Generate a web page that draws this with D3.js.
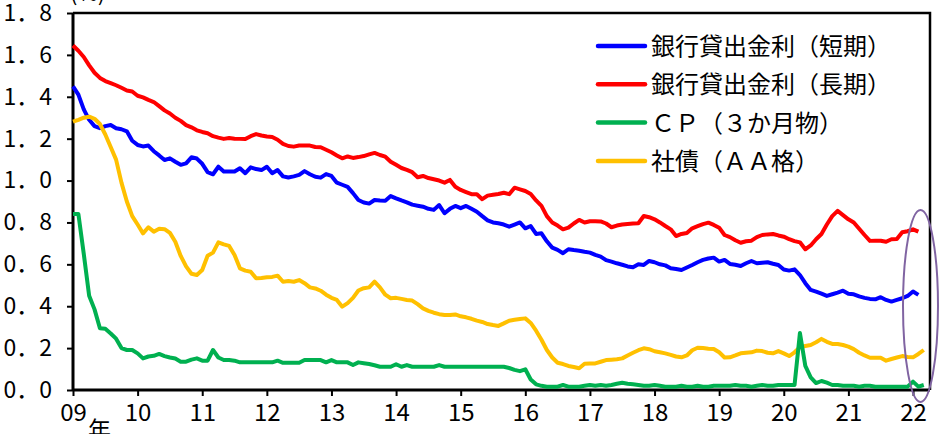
<!DOCTYPE html>
<html>
<head>
<meta charset="utf-8">
<script src="https://cdn.jsdelivr.net/npm/d3@7"></script>
<style>
body{margin:0;background:#fff;}
text{font-family:"Noto Sans CJK JP",sans-serif;fill:#000;}
</style>
</head>
<body>
<div id="chart"></div>
<script>
// monthly data from Jan 2009
var startYear = 2009;
var yearLabels = ["09","10","11","12","13","14","15","16","17","18","19","20","21","22"];
var yTicks = [0,0.2,0.4,0.6,0.8,1.0,1.2,1.4,1.6,1.8];
var seriesNames = ["銀行貸出金利（短期）","銀行貸出金利（長期）","ＣＰ（３か月物）","社債（ＡＡ格）"];

var shortRate = [
  1.45,1.41,1.34,1.29,1.26,1.25,1.26,1.265,1.25,1.245,1.235,1.19,
  1.17,1.163,1.167,1.14,1.12,1.098,1.106,1.09,1.075,1.082,1.111,1.105,
  1.08,1.04,1.03,1.066,1.043,1.043,1.043,1.059,1.035,1.063,1.055,1.05,
  1.066,1.035,1.05,1.02,1.015,1.02,1.027,1.045,1.03,1.018,1.014,1.031,
  1.022,0.99,0.98,0.97,0.94,0.907,0.895,0.89,0.907,0.905,0.904,0.926,
  0.915,0.905,0.896,0.885,0.88,0.875,0.865,0.86,0.883,0.844,0.865,0.879,
  0.868,0.879,0.865,0.851,0.83,0.81,0.8,0.796,0.79,0.78,0.79,0.8,
  0.772,0.783,0.745,0.748,0.71,0.68,0.669,0.653,0.672,0.668,0.665,0.66,
  0.656,0.645,0.637,0.62,0.613,0.605,0.598,0.59,0.586,0.6,0.597,0.616,
  0.61,0.6,0.595,0.581,0.578,0.573,0.585,0.597,0.61,0.621,0.628,0.632,
  0.613,0.621,0.602,0.598,0.592,0.605,0.616,0.605,0.608,0.61,0.603,0.597,
  0.575,0.57,0.576,0.549,0.51,0.478,0.47,0.46,0.449,0.457,0.465,0.474,
  0.46,0.457,0.447,0.44,0.435,0.433,0.443,0.43,0.422,0.43,0.438,0.449,
  0.47,0.454
];
var longRate = [
  1.645,1.62,1.59,1.55,1.515,1.49,1.475,1.465,1.455,1.443,1.43,1.425,
  1.405,1.397,1.385,1.375,1.355,1.335,1.32,1.3,1.285,1.265,1.254,1.24,
  1.232,1.226,1.212,1.205,1.199,1.203,1.2,1.199,1.198,1.212,1.222,1.215,
  1.21,1.208,1.195,1.175,1.165,1.162,1.167,1.167,1.167,1.16,1.159,1.147,
  1.135,1.12,1.106,1.115,1.108,1.112,1.117,1.125,1.132,1.122,1.114,1.09,
  1.075,1.06,1.051,1.04,1.016,1.022,1.012,1.006,1.0,0.99,1.003,0.97,
  0.955,0.945,0.935,0.935,0.911,0.928,0.932,0.936,0.942,0.935,0.966,0.958,
  0.95,0.936,0.905,0.879,0.83,0.8,0.785,0.767,0.775,0.795,0.812,0.8,
  0.806,0.806,0.805,0.795,0.777,0.785,0.79,0.793,0.795,0.796,0.831,0.825,
  0.815,0.8,0.783,0.767,0.735,0.745,0.75,0.772,0.782,0.792,0.799,0.788,
  0.775,0.74,0.73,0.715,0.703,0.71,0.713,0.73,0.74,0.743,0.745,0.738,
  0.732,0.72,0.711,0.705,0.672,0.69,0.72,0.745,0.79,0.83,0.855,0.835,
  0.815,0.8,0.77,0.74,0.712,0.713,0.713,0.708,0.72,0.721,0.753,0.758,
  0.767,0.756
];
var cpRate = [
  0.84,0.84,0.65,0.45,0.385,0.295,0.292,0.27,0.245,0.2,0.191,0.191,
  0.175,0.151,0.16,0.163,0.172,0.162,0.155,0.15,0.135,0.135,0.145,0.151,
  0.14,0.14,0.191,0.155,0.143,0.143,0.14,0.132,0.132,0.132,0.132,0.132,
  0.132,0.132,0.14,0.13,0.13,0.13,0.13,0.143,0.143,0.143,0.143,0.132,
  0.143,0.132,0.132,0.132,0.119,0.132,0.128,0.124,0.118,0.111,0.111,0.111,
  0.123,0.111,0.119,0.111,0.111,0.111,0.111,0.111,0.119,0.111,0.111,0.111,
  0.111,0.111,0.111,0.111,0.111,0.111,0.111,0.111,0.111,0.105,0.096,0.09,
  0.099,0.05,0.027,0.02,0.016,0.016,0.016,0.024,0.016,0.016,0.016,0.02,
  0.024,0.02,0.024,0.02,0.024,0.03,0.035,0.03,0.027,0.024,0.02,0.02,
  0.024,0.02,0.016,0.016,0.016,0.02,0.016,0.016,0.02,0.016,0.016,0.02,
  0.02,0.02,0.02,0.024,0.02,0.02,0.016,0.02,0.024,0.02,0.02,0.024,
  0.024,0.024,0.024,0.272,0.115,0.06,0.033,0.043,0.035,0.024,0.024,0.02,
  0.02,0.02,0.016,0.02,0.02,0.016,0.016,0.016,0.016,0.016,0.016,0.016,
  0.04,0.016,0.024
];
var bondRate = [
  1.281,1.29,1.3,1.305,1.295,1.27,1.22,1.16,1.1,0.99,0.9,0.83,
  0.79,0.748,0.777,0.756,0.77,0.768,0.75,0.708,0.64,0.59,0.555,0.549,
  0.573,0.641,0.656,0.705,0.695,0.688,0.645,0.581,0.57,0.565,0.533,0.535,
  0.538,0.54,0.546,0.517,0.52,0.517,0.525,0.51,0.49,0.485,0.474,0.455,
  0.44,0.43,0.398,0.415,0.44,0.475,0.486,0.49,0.517,0.49,0.455,0.438,
  0.44,0.435,0.43,0.427,0.41,0.39,0.378,0.369,0.362,0.358,0.358,0.361,
  0.352,0.347,0.34,0.331,0.325,0.315,0.31,0.306,0.318,0.331,0.335,0.339,
  0.342,0.32,0.283,0.24,0.191,0.155,0.13,0.124,0.115,0.11,0.104,0.125,
  0.127,0.127,0.135,0.143,0.145,0.147,0.151,0.165,0.178,0.19,0.199,0.195,
  0.185,0.18,0.175,0.168,0.16,0.156,0.165,0.19,0.202,0.2,0.197,0.196,
  0.18,0.155,0.156,0.165,0.175,0.178,0.18,0.188,0.186,0.178,0.175,0.186,
  0.175,0.162,0.18,0.204,0.21,0.215,0.228,0.244,0.23,0.22,0.22,0.215,
  0.207,0.195,0.178,0.165,0.154,0.154,0.154,0.14,0.148,0.155,0.162,0.158,
  0.156,0.172,0.191
];

var colors = ["#0000ff","#ff0000","#00b050","#ffc000"];

var width = 939, height = 434;
var plotLeft = 73, plotRight = 930, plotTop = 13, plotBottom = 390;

var svg = d3.select("#chart").append("svg")
  .attr("width", width)
  .attr("height", height)
  .style("display","block")
  .style("background","#fff");

var x = d3.scaleLinear().domain([2009, 2022.263]).range([plotLeft, plotRight]);
var y = d3.scaleLinear().domain([0, 1.8]).range([plotBottom, plotTop]);

// frame (top + right)
svg.append("path")
  .attr("d", "M" + plotLeft + "," + plotTop + "H" + plotRight + "V" + plotBottom)
  .attr("fill","none")
  .attr("stroke","#000")
  .attr("stroke-width",2.5);

// y axis
var yAxis = d3.axisLeft(y)
  .tickValues(yTicks)
  .tickSize(6)
  .tickPadding(15)
  .tickFormat(function(d){ return d3.format(".1f")(d).replace(".", "．"); });
var gy = svg.append("g").attr("transform","translate(" + plotLeft + ",0)").call(yAxis);

// x axis
var xAxis = d3.axisBottom(x)
  .tickValues(yearLabels.map(function(d,i){ return startYear + i; }))
  .tickSize(6)
  .tickPadding(10)
  .tickFormat(function(d,i){ return yearLabels[i]; });
var gx = svg.append("g").attr("transform","translate(0," + plotBottom + ")").call(xAxis);

[gx, gy].forEach(function(g){
  g.select(".domain").attr("stroke","#000").attr("stroke-width",3);
  g.selectAll(".tick line").attr("stroke","#000").attr("stroke-width",2);
  g.selectAll(".tick text").attr("font-family",'"Noto Sans CJK JP",sans-serif');
});
gx.selectAll(".tick text").attr("font-size",24).attr("dy","0.62em");
gy.selectAll(".tick text").attr("font-size",23);
gy.select(".domain").attr("d","M0," + plotBottom + "V" + plotTop);
gx.select(".domain").attr("d","M" + plotLeft + ",0H" + plotRight);

// 年 after 09
svg.append("text")
  .attr("x", 88)
  .attr("y", 438)
  .attr("font-size",23)
  .text("年");

// unit
svg.append("text")
  .attr("x", 70)
  .attr("y", 1)
  .attr("font-size",22)
  .text("(%)");

// lines
var allSeries = [shortRate, longRate, bondRate, cpRate];
var lineColors = [colors[0], colors[1], colors[3], colors[2]];
var line = d3.line()
  .x(function(d,i){ return x(startYear + i/12); })
  .y(function(d){ return y(d); });

svg.append("g").selectAll("path")
  .data(allSeries)
  .enter()
  .append("path")
  .attr("d", line)
  .attr("fill","none")
  .attr("stroke", function(d,i){ return lineColors[i]; })
  .attr("stroke-width",4)
  .attr("stroke-linejoin","round");

// legend
var legend = svg.append("g");
var leg = legend.selectAll("g")
  .data(seriesNames)
  .enter()
  .append("g")
  .attr("transform", function(d,i){ return "translate(598," + (46 + i*38.3) + ")"; });
leg.append("line")
  .attr("x1",0).attr("x2",47)
  .attr("stroke", function(d,i){ return colors[i]; })
  .attr("stroke-width",4.5)
  .attr("stroke-linecap","round");
leg.append("text")
  .attr("x",53)
  .attr("y",9)
  .attr("font-size",24)
  .text(function(d){ return d; });

// highlight ellipse at the latest data
svg.append("ellipse")
  .attr("cx",920.5)
  .attr("cy",306)
  .attr("rx",17.5)
  .attr("ry",96)
  .attr("fill","none")
  .attr("stroke","#8064a2")
  .attr("stroke-width",2);
</script>
</body>
</html>
